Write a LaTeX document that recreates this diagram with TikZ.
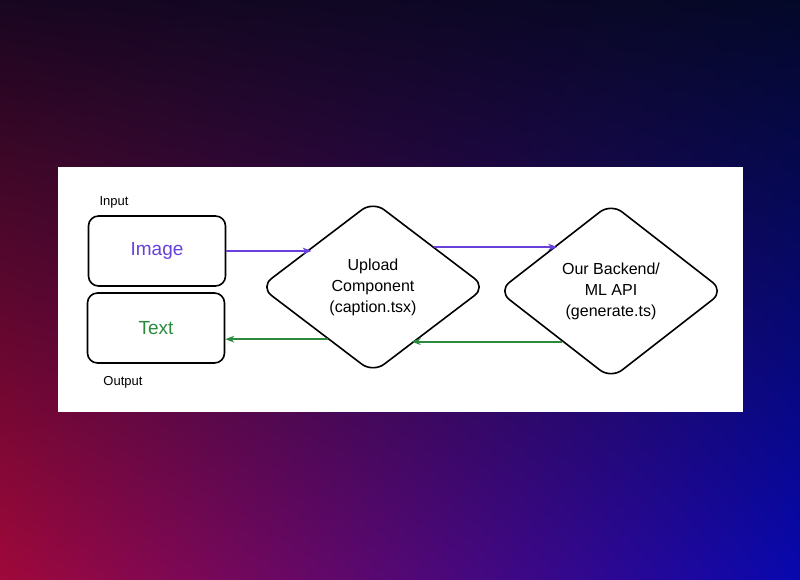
\documentclass[tikz,border=0pt]{standalone}
\usepackage{fontspec}
\setmainfont{Liberation Sans}
\usetikzlibrary{shapes.geometric,arrows.meta,shadings}
\definecolor{navy}{HTML}{040828}
\definecolor{crimson}{HTML}{A0083A}
\definecolor{deepblue}{HTML}{0808B0}
\definecolor{topleft}{HTML}{180620}
\definecolor{flowpurple}{HTML}{6741D9}
\definecolor{flowgreen}{HTML}{2B8A3E}
\tikzset{
  iobox/.style={draw, line width=1.6pt, rounded corners=10pt, minimum width=137pt, minimum height=70pt, font=\fontsize{19}{22}\selectfont},
  stepdiamond/.style={draw, diamond, line width=1.6pt, rounded corners=14pt, inner sep=0pt, align=center, font=\fontsize{16}{21}\selectfont},
  flow/.style={line width=1.8pt, -{Stealth[length=9pt]}},
  tag/.style={font=\fontsize{13}{15}\selectfont}
}
\begin{document}
\begin{tikzpicture}[x=1pt, y=-1pt]
  \useasboundingbox (0,0) rectangle (800,580);
  % background
  \shade [upper left=topleft, upper right=navy, lower left=crimson, lower right=deepblue] (0,0) rectangle (800,580);
  \fill [white] (58,167) rectangle (743,412);

  \node [iobox, text=flowpurple] (img) at (157,251) {Image};
  \node [iobox, text=flowgreen] (txt) at (156,328) {Text};
  \node [tag] (inp) at (114,202) {Input};
  \node [tag] (outp) at (123,382) {Output};

  \node [stepdiamond, minimum width=226pt, minimum height=172pt] (upload) at (373,287) {Upload\\Component\\(caption.tsx)};
  \node [stepdiamond, minimum width=226pt, minimum height=176pt] (backend) at (611,291) {Our Backend/\\ML API\\(generate.ts)};

  \draw [flow, flowpurple] (img.east) -- (img.east -| upload.147);
  \draw [flow, flowpurple] (upload.33) -- (upload.33 -| backend.139);
  \draw [flow, flowgreen] (backend.226) -- (backend.226 -| upload.304);
  \draw [flow, flowgreen] (upload.229) -- (upload.229 -| txt.east);
\end{tikzpicture}
\end{document}
